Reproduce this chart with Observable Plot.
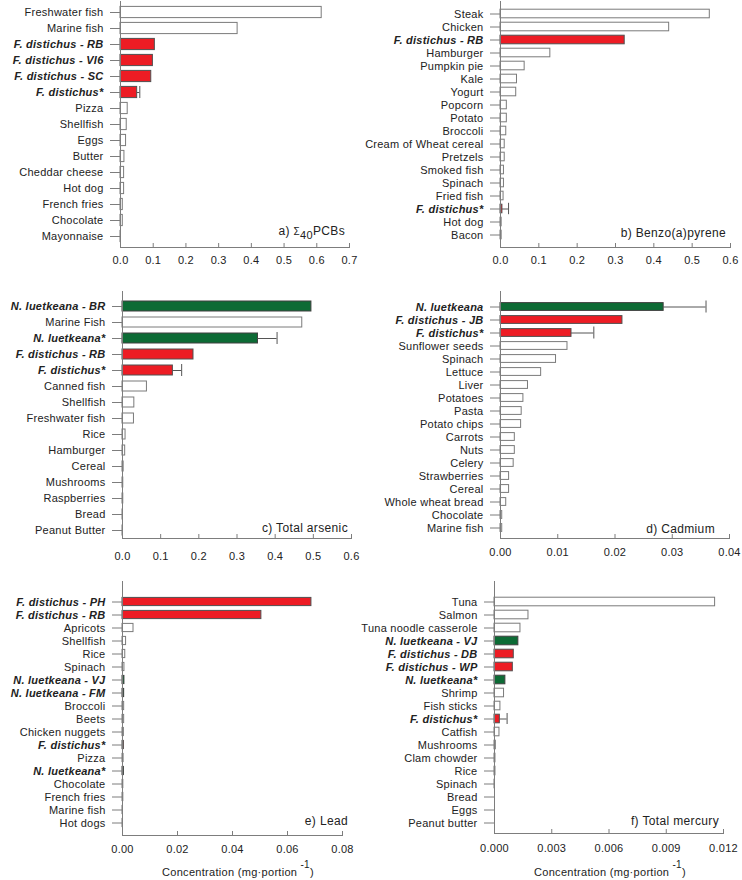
<!DOCTYPE html>
<html><head><meta charset="utf-8">
<script src="https://cdn.jsdelivr.net/npm/d3@7"></script>
<script src="https://cdn.jsdelivr.net/npm/@observablehq/plot@0.6"></script>
<style>
body{margin:0;background:#fff;}
#wrap{position:relative;width:742px;height:880px;font-family:"Liberation Sans",Arial,sans-serif;background:#fff;overflow:hidden;}
.panel{position:absolute;}
.axt{position:absolute;font-size:11px;letter-spacing:0.3px;color:#222;white-space:nowrap;line-height:13px;}
.axt .sup{position:relative;top:-8px;font-size:10px;}
</style></head><body><div id="wrap"></div>
<script>
// ---------- DATA ----------
// a) Σ40PCBs
const pcbLabels = ["Freshwater fish","Marine fish","F. distichus - RB","F. distichus - VI6","F. distichus - SC","F. distichus*","Pizza","Shellfish","Eggs","Butter","Cheddar cheese","Hot dog","French fries","Chocolate","Mayonnaise"];
const pcbValues = [0.615,0.358,0.105,0.099,0.094,0.051,0.022,0.019,0.017,0.012,0.011,0.011,0.007,0.007,0.0005];
const pcbGroups = ["food","food","fd","fd","fd","fd","food","food","food","food","food","food","food","food","food"];
const pcbErrors = [null,null,null,null,null,0.008,null,null,null,null,null,null,null,null,null];
const pcbTicks = [0,0.1,0.2,0.3,0.4,0.5,0.6,0.7];

// b) Benzo(a)pyrene
const bapLabels = ["Steak","Chicken","F. distichus - RB","Hamburger","Pumpkin pie","Kale","Yogurt","Popcorn","Potato","Broccoli","Cream of Wheat cereal","Pretzels","Smoked fish","Spinach","Fried fish","F. distichus*","Hot dog","Bacon"];
const bapValues = [0.546,0.44,0.324,0.13,0.063,0.043,0.041,0.0165,0.0165,0.015,0.011,0.011,0.009,0.009,0.008,0.005,0.003,0.003];
const bapGroups = ["food","food","fd","food","food","food","food","food","food","food","food","food","food","food","food","fd","food","food"];
const bapErrors = [null,null,null,null,null,null,null,null,null,null,null,null,null,null,null,0.016,null,null];
const bapTicks = [0,0.1,0.2,0.3,0.4,0.5,0.6];

// c) Total arsenic
const asLabels = ["N. luetkeana - BR","Marine Fish","N. luetkeana*","F. distichus - RB","F. distichus*","Canned fish","Shellfish","Freshwater fish","Rice","Hamburger","Cereal","Mushrooms","Raspberries","Bread","Peanut Butter"];
const asValues = [0.495,0.471,0.355,0.186,0.132,0.064,0.031,0.030,0.008,0.007,0.003,0.002,0.002,0.0005,0.0003];
const asGroups = ["nl","food","nl","fd","fd","food","food","food","food","food","food","food","food","food","food"];
const asErrors = [null,null,0.05,null,0.023,null,null,null,null,null,null,null,null,null,null];
const asTicks = [0,0.1,0.2,0.3,0.4,0.5,0.6];

// d) Cadmium
const cdLabels = ["N. luetkeana","F. distichus - JB","F. distichus*","Sunflower seeds","Spinach","Lettuce","Liver","Potatoes","Pasta","Potato chips","Carrots","Nuts","Celery","Strawberries","Cereal","Whole wheat bread","Chocolate","Marine fish"];
const cdValues = [0.0285,0.0213,0.0124,0.0117,0.0097,0.0071,0.0048,0.0040,0.0037,0.0036,0.0025,0.0025,0.0023,0.0015,0.0015,0.001,0.0003,0.0003];
const cdGroups = ["nl","fd","fd","food","food","food","food","food","food","food","food","food","food","food","food","food","food","food"];
const cdErrors = [0.0074,null,0.0039,null,null,null,null,null,null,null,null,null,null,null,null,null,null,null];
const cdTicks = [0,0.01,0.02,0.03,0.04];

// e) Lead
const pbLabels = ["F. distichus - PH","F. distichus - RB","Apricots","Shellfish","Rice","Spinach","N. luetkeana - VJ","N. luetkeana - FM","Broccoli","Beets","Chicken nuggets","F. distichus*","Pizza","N. luetkeana*","Chocolate","French fries","Marine fish","Hot dogs"];
const pbValues = [0.0687,0.0505,0.004,0.0013,0.001,0.0007,0.0007,0.0006,0.0006,0.0006,0.0005,0.0005,0.0004,0.0005,0.0003,0.0003,0.0001,0.0001];
const pbGroups = ["fd","fd","food","food","food","food","nl","nl","food","food","food","fd","food","nl","food","food","food","food"];
const pbErrors = [null,null,null,null,null,null,null,null,null,null,null,null,null,null,null,null,null,null];
const pbTicks = [0,0.02,0.04,0.06,0.08];

// f) Total mercury
const hgLabels = ["Tuna","Salmon","Tuna noodle casserole","N. luetkeana - VJ","F. distichus - DB","F. distichus - WP","N. luetkeana*","Shrimp","Fish sticks","F. distichus*","Catfish","Mushrooms","Clam chowder","Rice","Spinach","Bread","Eggs","Peanut butter"];
const hgValues = [0.01156,0.00178,0.00136,0.00125,0.00101,0.00096,0.00057,0.0005,0.00031,0.00028,0.00026,0.00007,0.00005,0.00005,0.00001,0,0,0];
const hgGroups = ["food","food","food","nl","fd","fd","nl","food","food","fd","food","food","food","food","food","food","food","food"];
const hgErrors = [null,null,null,null,null,null,null,null,null,0.00038,null,null,null,null,null,null,null,null];
const hgTicks = [0,0.003,0.006,0.009,0.012];

// ---------- STYLE / LAYOUT ----------
const FONT = "'Liberation Sans', Arial, sans-serif";
const AXIS = "#7d7d7d";
const TEXT = "#222";
const FILL = {food: "#ffffff", fd: "#ed1c24", nl: "#0d6b35"};
const STROKE = {food: "#7a7a7a", fd: "#505050", nl: "#404040"};

const wrap = document.getElementById("wrap");

function panel(cfg, labels, values, groups, errors, ticks, fmt) {
  const rows = labels.map((label, i) => ({label, value: values[i], group: groups[i], err: errors[i] == null ? null : values[i] + errors[i]}));
  const errRows = rows.filter(d => d.err != null);
  const species = labels.filter((l, i) => groups[i] !== "food");
  const foods = labels.filter((l, i) => groups[i] === "food");
  const svg = Plot.plot({
    width: cfg.w, height: cfg.h,
    marginLeft: cfg.ml, marginRight: cfg.mr, marginTop: cfg.mt, marginBottom: cfg.h - cfg.axisY,
    style: {fontFamily: FONT, fontSize: "11px", color: TEXT, background: "white", letterSpacing: "0.25px", overflow: "visible"},
    x: {domain: [0, ticks[ticks.length - 1]], axis: null},
    y: {domain: labels, range: cfg.yRange, padding: 0, axis: null},
    marks: [
      Plot.barX(rows, {x: "value", y: "label", fill: d => FILL[d.group], stroke: d => STROKE[d.group], strokeWidth: 1, insetTop: cfg.bi, insetBottom: cfg.bi}),
      Plot.ruleY(errRows, {y: "label", x1: "value", x2: "err", stroke: "#555", strokeWidth: 1}),
      Plot.tickX(errRows, {x: "err", y: "label", stroke: "#555", strokeWidth: 1, insetTop: cfg.ci, insetBottom: cfg.ci}),
      Plot.frame({anchor: "left", stroke: AXIS}),
      Plot.frame({anchor: "bottom", stroke: AXIS}),
      Plot.axisX(ticks, {tickSize: 0, tickPadding: cfg.tp, tickFormat: fmt, label: null, fill: TEXT, letterSpacing: "0.6px"}),
      Plot.axisX(ticks, {tickSize: 4, dy: -4, tickFormat: () => "", label: null, stroke: AXIS}),
      Plot.axisY(foods, {tickSize: 10, tickPadding: 7, label: null, stroke: AXIS, fill: TEXT}),
      Plot.axisY(species, {tickSize: 10, tickPadding: 7, label: null, stroke: AXIS, fill: TEXT, fontWeight: "bold", fontStyle: "italic"})
    ]
  });
  // panel caption
  const t = d3.select(svg).append("text")
    .attr("x", cfg.lx).attr("y", cfg.ly).attr("text-anchor", "end")
    .attr("fill", TEXT).style("font-size", "12px").style("letter-spacing", "0.35px");
  cfg.caption.forEach(part => {
    const s = t.append("tspan").text(part.t);
    if (part.sub) s.attr("dy", 4).style("font-size", "11px");
    if (part.after) s.attr("dy", -4);
    if (part.sym) s.style("font-size", "10px");
  });
  const div = document.createElement("div");
  div.className = "panel";
  div.style.left = cfg.left + "px";
  div.style.top = cfg.top + "px";
  div.appendChild(svg);
  wrap.appendChild(div);
}

const f1 = d3.format(".1f"), f2 = d3.format(".2f"), f3 = d3.format(".3f");

panel({left: 0, top: 0, w: 371, h: 290, ml: 120, mr: 22, mt: 1, axisY: 247, yRange: [3, 245], tp: 9, bi: 2.4, ci: 2,
  lx: 345, ly: 235, caption: [{t: "a) "}, {t: "Σ", sym: true}, {t: "40", sub: true}, {t: "PCBs", after: true}]},
  pcbLabels, pcbValues, pcbGroups, pcbErrors, pcbTicks, f1);

panel({left: 371, top: 0, w: 371, h: 290, ml: 129, mr: 12, mt: 1, axisY: 247, yRange: [3.3, 244.7], tp: 9, bi: 2.2, ci: 0.8,
  lx: 355, ly: 237, caption: [{t: "b) Benzo(a)pyrene"}]},
  bapLabels, bapValues, bapGroups, bapErrors, bapTicks, f1);

panel({left: 0, top: 290, w: 371, h: 290, ml: 122, mr: 20, mt: 1, axisY: 248, yRange: [7, 248], tp: 14, bi: 3, ci: 2,
  lx: 348, ly: 242, caption: [{t: "c) Total arsenic"}]},
  asLabels, asValues, asGroups, asErrors, asTicks, f1);

panel({left: 371, top: 290, w: 371, h: 290, ml: 129, mr: 13, mt: 1, axisY: 248, yRange: [6.6, 248], tp: 10, bi: 2.6, ci: 0.5,
  lx: 344, ly: 243, caption: [{t: "d) Cadmium"}]},
  cdLabels, cdValues, cdGroups, cdErrors, cdTicks, f2);

panel({left: 0, top: 580, w: 371, h: 300, ml: 122, mr: 29, mt: 1, axisY: 255, yRange: [10.6, 252.7], tp: 10, bi: 2.4, ci: 1,
  lx: 348, ly: 245, caption: [{t: "e) Lead"}]},
  pbLabels, pbValues, pbGroups, pbErrors, pbTicks, f2);

panel({left: 371, top: 580, w: 371, h: 300, ml: 123, mr: 19, mt: 1, axisY: 253, yRange: [10.6, 253.4], tp: 11, bi: 2.2, ci: 1,
  lx: 348, ly: 245, caption: [{t: "f) Total mercury"}]},
  hgLabels, hgValues, hgGroups, hgErrors, hgTicks, f3);

// axis titles
[[162, 866], [534, 866]].forEach(([x, y]) => {
  const d = document.createElement("div");
  d.className = "axt";
  d.style.left = x + "px";
  d.style.top = y + "px";
  d.innerHTML = 'Concentration (mg·portion<span class="sup">&nbsp;-1</span>)';
  wrap.appendChild(d);
});
</script>
</body></html>
